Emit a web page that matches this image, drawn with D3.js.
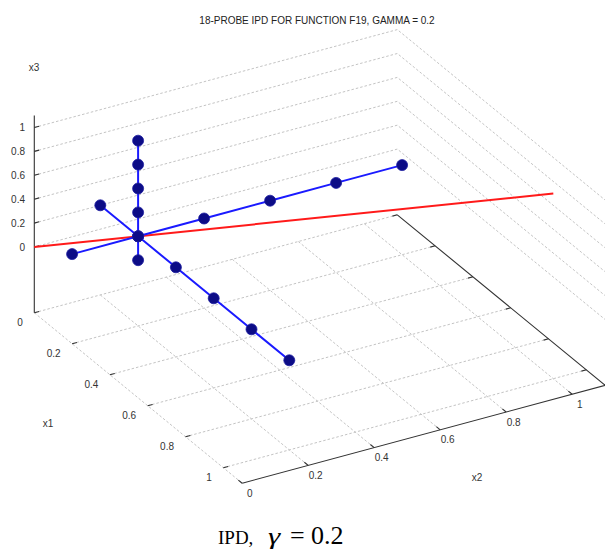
<!DOCTYPE html>
<html><head><meta charset="utf-8">
<script src="https://cdn.jsdelivr.net/npm/d3@7"></script>
<style>
html,body{margin:0;padding:0;background:#fff;}
svg{display:block;}
text{font-family:Arial,"Liberation Sans",sans-serif;}
</style></head>
<body>
<svg id="chart" width="605" height="550"></svg>
<script>
// ---------- data ----------
const titleText = "18-PROBE IPD FOR FUNCTION F19, GAMMA = 0.2";
const tickValues = [0, 0.2, 0.4, 0.6, 0.8, 1];
const tickLabels = ["0", "0.2", "0.4", "0.6", "0.8", "1"];
const axisMin = [0, 0, -0.55];
const axisMax = [1.1, 1.1, 1.1];
// probe lines through centre (0.2,0.2,0.2)
const probeX1 = [[0,0.2,0.2],[0.2,0.2,0.2],[0.4,0.2,0.2],[0.6,0.2,0.2],[0.8,0.2,0.2],[1,0.2,0.2]];
const probeX2 = [[0.2,0,0.2],[0.2,0.2,0.2],[0.2,0.4,0.2],[0.2,0.6,0.2],[0.2,0.8,0.2],[0.2,1,0.2]];
const probeX3 = [[0.2,0.2,0],[0.2,0.2,0.2],[0.2,0.2,0.4],[0.2,0.2,0.6],[0.2,0.2,0.8],[0.2,0.2,1]];
const diagonal = [[0,0,0],[1,1,1]];

// ---------- projection built from linear scales ----------
const origin = [34.3, 247];
const s1x = d3.scaleLinear().domain([0,1]).range([0,189]);
const s1y = d3.scaleLinear().domain([0,1]).range([0,155]);
const s2x = d3.scaleLinear().domain([0,1]).range([0,330]);
const s2y = d3.scaleLinear().domain([0,1]).range([0,-89]);
const s3y = d3.scaleLinear().domain([0,1]).range([0,-119.5]);
function P(p){
  return [origin[0] + s1x(p[0]) + s2x(p[1]),
          origin[1] + s1y(p[0]) + s2y(p[1]) + s3y(p[2])];
}
const line = d3.line().x(d => P(d)[0]).y(d => P(d)[1]);

const svg = d3.select("#chart");
const [x1a, x2a, x3a] = axisMin;
const [x1b, x2b, x3b] = axisMax;

// ---------- grid ----------
const grid = svg.append("g").attr("stroke","#c4c4c4").attr("stroke-width",1)
  .attr("stroke-dasharray","2.5,2").attr("fill","none");
tickValues.forEach(t => {
  grid.append("path").attr("d", line([[t,x2a,x3a],[t,x2b,x3a]]));
  grid.append("path").attr("d", line([[x1a,t,x3a],[x1b,t,x3a]]));
  grid.append("path").attr("d", line([[x1a,x2a,t],[x1a,x2b,t],[x1b,x2b,t]]));
});

// ---------- axis lines ----------
const ax = svg.append("g").attr("stroke","#333").attr("stroke-width",1.1).attr("fill","none");
ax.append("path").attr("d", line([[x1a,x2a,x3a],[x1a,x2a,x3b]]));
ax.append("path").attr("d", line([[x1b,x2a,x3a],[x1b,x2b,x3a],[x1a,x2b,x3a]]));

function unit(v){const l=Math.hypot(v[0],v[1]);return [v[0]/l,v[1]/l];}
const d1 = unit([s1x(1),s1y(1)]), d2 = unit([s2x(1),s2y(1)]);
const tl = 5;
function tick(p, d){
  const a = P(p);
  ax.append("line").attr("x1",a[0]).attr("y1",a[1]).attr("x2",a[0]+d[0]*tl).attr("y2",a[1]+d[1]*tl);
}
tickValues.forEach(t => {
  tick([x1a,x2a,t], d2);
  tick([t,x2a,x3a], d2);
  tick([x1b,t,x3a], [-d1[0],-d1[1]]);
  tick([t,x2b,x3a], [-d2[0],-d2[1]]);
});

// ---------- tick labels ----------
const lab = svg.append("g").attr("fill","#333").attr("font-size",10);
tickValues.forEach((t,i) => {
  let a = P([x1a,x2a,t]);
  lab.append("text").attr("x",25).attr("y",a[1]).attr("text-anchor","end")
    .attr("dominant-baseline","central").text(tickLabels[i]);
  a = P([t,x2a,x3a]);
  lab.append("text").attr("x",a[0]-11.5).attr("y",a[1]+9.5).attr("text-anchor","end")
    .attr("dominant-baseline","central").text(tickLabels[i]);
  a = P([x1b,t,x3a]);
  lab.append("text").attr("x",a[0]+7.5).attr("y",a[1]+10).attr("text-anchor","middle")
    .attr("dominant-baseline","central").text(tickLabels[i]);
});
lab.append("text").attr("x",34).attr("y",67).attr("text-anchor","middle").attr("dominant-baseline","central").text("x3");
lab.append("text").attr("x",48).attr("y",423).attr("text-anchor","middle").attr("dominant-baseline","central").text("x1");
lab.append("text").attr("x",477).attr("y",477).attr("text-anchor","middle").attr("dominant-baseline","central").text("x2");

// ---------- title ----------
svg.append("text").attr("x",317).attr("y",20).attr("text-anchor","middle")
  .attr("dominant-baseline","central").attr("font-size",10).attr("fill","#222").text(titleText);

// ---------- data marks ----------
svg.append("path").attr("d", line(diagonal)).attr("stroke","#ff1a1a").attr("stroke-width",2).attr("fill","none");
const probes = [probeX1, probeX2, probeX3];
probes.forEach(pr => {
  svg.append("path").attr("d", line(pr)).attr("stroke","#1a1aff").attr("stroke-width",2).attr("fill","none");
});
probes.forEach(pr => {
  svg.append("g").selectAll("circle").data(pr).join("circle")
    .attr("cx", d => P(d)[0]).attr("cy", d => P(d)[1]).attr("r",5.5)
    .attr("fill","#0c0c86").attr("stroke","#1c1ca0").attr("stroke-width",0.8);
});

// ---------- caption ----------
const cap = svg.append("g").attr("fill","#000");
const serif = "'Liberation Serif','Times New Roman',serif";
cap.append("text").attr("x",218).attr("y",544).attr("font-size",19).style("font-family",serif).text("IPD,");
cap.append("text").attr("transform","translate(268,544) scale(1.35,1)").attr("font-size",23).attr("font-style","italic").style("font-family",serif).text("γ");
cap.append("text").attr("x",290).attr("y",544).attr("font-size",26).style("font-family",serif).text("=");
cap.append("text").attr("x",311).attr("y",544).attr("font-size",26).style("font-family",serif).text("0.2");
</script>
</body></html>
